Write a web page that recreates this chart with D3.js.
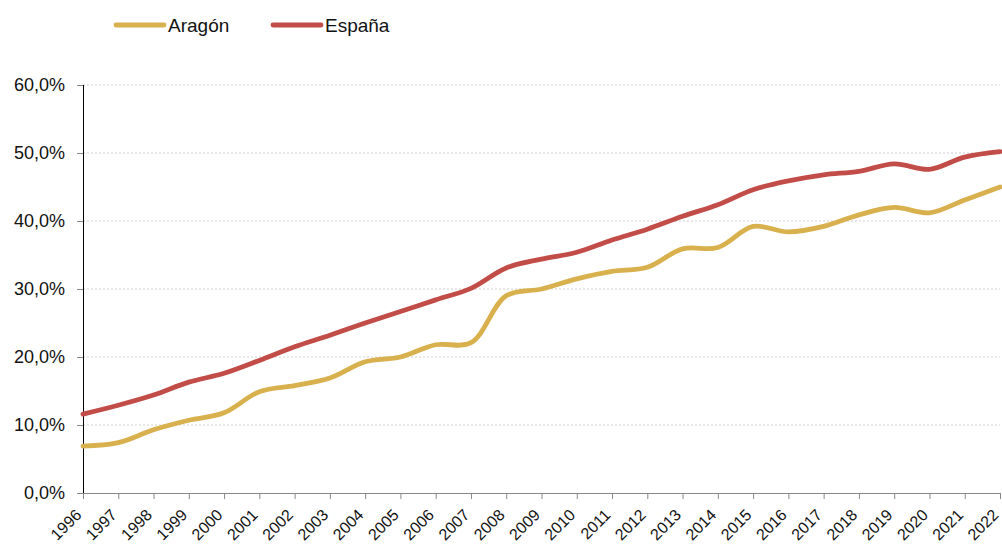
<!DOCTYPE html>
<html><head><meta charset="utf-8">
<script src="https://cdn.jsdelivr.net/npm/d3@7"></script>
<style>body{margin:0;background:#fff;}svg{display:block;font-family:"Liberation Sans",Arial,sans-serif;}</style>
</head><body>
<script>
const years = [1996,1997,1998,1999,2000,2001,2002,2003,2004,2005,2006,2007,2008,2009,2010,2011,2012,2013,2014,2015,2016,2017,2018,2019,2020,2021,2022];
const aragon = [6.9,7.4,9.3,10.7,11.8,14.9,15.8,16.9,19.3,20.0,21.8,22.1,29.0,30.0,31.5,32.6,33.2,35.9,36.1,39.2,38.4,39.2,40.9,42.0,41.2,43.1,45.0];
const espana = [11.6,12.9,14.4,16.3,17.6,19.5,21.5,23.2,25.0,26.7,28.4,30.1,33.1,34.4,35.4,37.2,38.8,40.7,42.4,44.6,45.9,46.8,47.3,48.4,47.6,49.4,50.2];
const yTicks = [0,10,20,30,40,50,60];
const seriesNames = ["Aragón","España"];
const colors = ["#D8B04E","#C24D48"];

const W=1002,H=546;
const svg=d3.select("body").append("svg").attr("width",W).attr("height",H);
const x=d3.scaleLinear().domain([1996,2022]).range([83,1000]);
const y=d3.scaleLinear().domain([0,60]).range([493,85]);
const fmt=v=>d3.format(".1f")(v).replace(".",",")+"%";

// gridlines
svg.append("g").selectAll("line").data(yTicks.filter(d=>d>0)).join("line")
  .attr("x1",83).attr("x2",1000).attr("y1",d=>y(d)).attr("y2",d=>y(d))
  .attr("stroke","#cfcfcf").attr("stroke-width",1).attr("stroke-dasharray","2,2");

// y axis
const ya=svg.append("g").attr("transform","translate(83,0)")
  .call(d3.axisLeft(y).tickValues(yTicks).tickFormat(fmt).tickSize(6).tickPadding(12));
ya.select(".domain").remove();
ya.selectAll(".tick line").attr("stroke","#888");
ya.selectAll("text").attr("font-size",18).attr("fill","#111").attr("font-family","Liberation Sans, Arial, sans-serif");
svg.append("line").attr("x1",83.5).attr("x2",83.5).attr("y1",y(60)).attr("y2",y(0)).attr("stroke","#000").attr("stroke-width",1);

// x axis
const xa=svg.append("g").attr("transform",`translate(0,${y(0)})`)
  .call(d3.axisBottom(x).tickValues(years).tickFormat(d3.format("d")).tickSize(6).tickSizeOuter(0));
xa.select(".domain").attr("stroke","#888");
xa.selectAll(".tick line").attr("stroke","#888");
xa.selectAll("text").attr("font-size",16).attr("fill","#111").attr("font-family","Liberation Sans, Arial, sans-serif")
  .attr("text-anchor","end").attr("x",0).attr("y",0).attr("dy","0.35em")
  .attr("transform","translate(-5,19) rotate(-45)");

// lines
const line=d3.line().x((d,i)=>x(years[i])).y(d=>y(d)).curve(d3.curveCatmullRom.alpha(0.5));
[aragon,espana].forEach((s,k)=>{
  svg.append("path").attr("d",line(s)).attr("fill","none").attr("stroke",colors[k])
    .attr("stroke-width",4.8).attr("stroke-linecap","round").attr("stroke-linejoin","round");
});

// legend
const lg=svg.append("g");
const lx=[116,273];
seriesNames.forEach((n,k)=>{
  lg.append("line").attr("x1",lx[k]).attr("x2",lx[k]+48).attr("y1",25).attr("y2",25)
    .attr("stroke",colors[k]).attr("stroke-width",4.8).attr("stroke-linecap","round");
  lg.append("text").attr("x",lx[k]+52).attr("y",32).attr("font-size",19).attr("fill","#111").text(n);
});
</script>
</body></html>
